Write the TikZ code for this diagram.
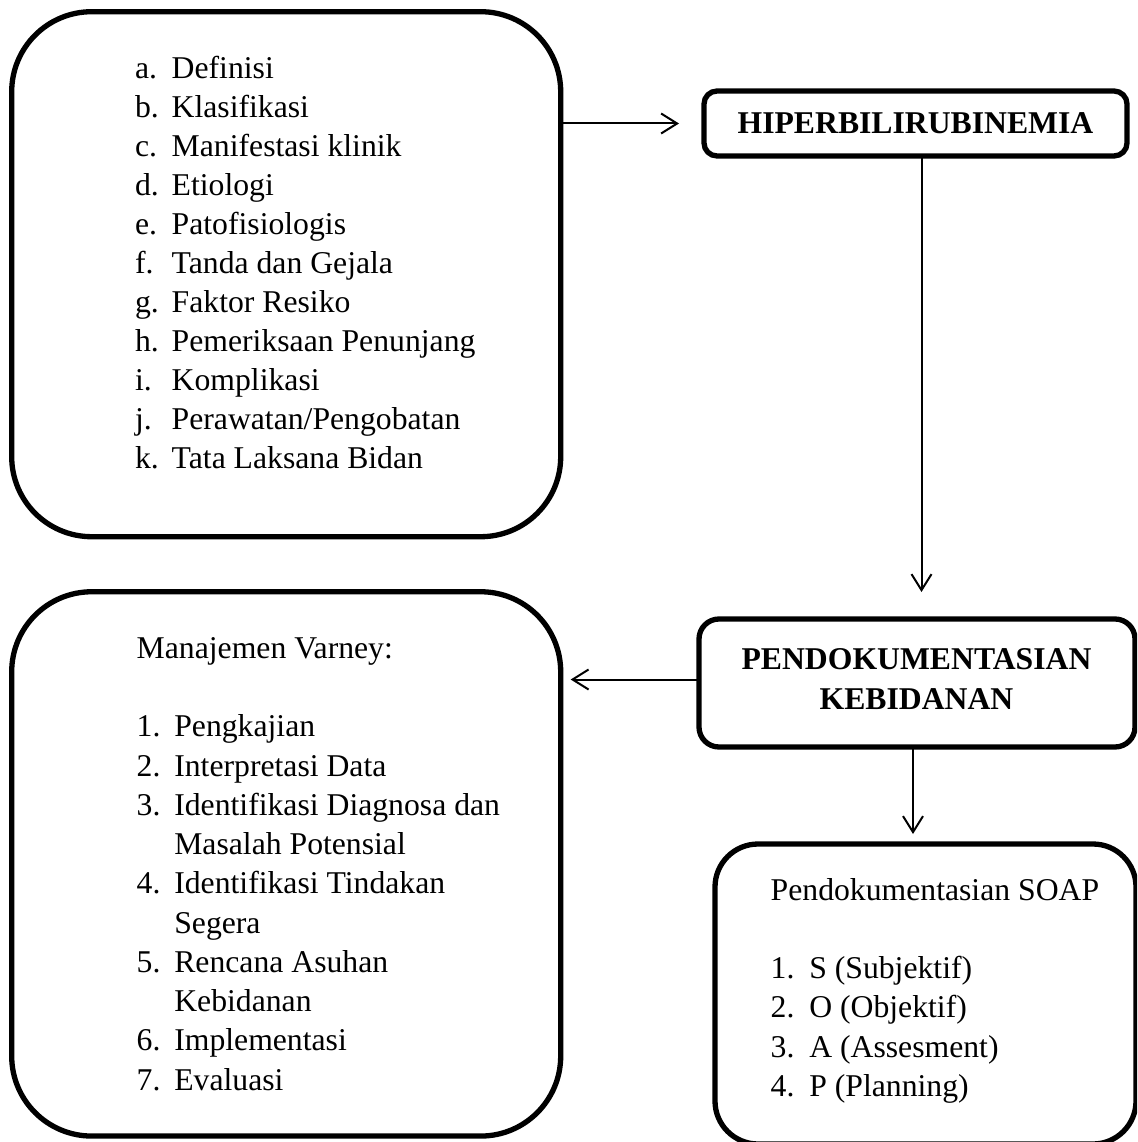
\documentclass[tikz,border=0pt]{standalone}
\usepackage{fontspec}
\setmainfont{Liberation Serif}
\usetikzlibrary{arrows.meta}
\begin{document}
\begin{tikzpicture}[x=1pt,y=-1pt,
  bigbox/.style={draw, line width=5.3pt, inner sep=0pt, outer sep=0pt, rounded corners=#1},
  txt/.style={inner sep=0pt, outer sep=0pt, anchor=base west, font=\fontsize{31.7}{39}\selectfont},
  head/.style={inner sep=0pt, outer sep=0pt, align=center, font=\fontsize{31.7}{40}\selectfont\bfseries},
  arr/.style={line width=2pt, -{Straight Barb[length=16pt,width=20pt,line width=2pt]}}
]
\fill[white] (0,0) rectangle (1137,1142);
\useasboundingbox (0,0) rectangle (1137,1142);
\begin{scope}
\clip (0,0) rectangle (1137,1142);

% boxes
\node[bigbox=80pt, minimum width=549pt, minimum height=525pt] (topics) at (286.2,274.2) {};
\node[bigbox=13pt, minimum width=423pt, minimum height=65pt, head] (hiper) at (915.5,123.5) {HIPERBILIRUBINEMIA};
\node[bigbox=20pt, minimum width=436pt, minimum height=128pt] (pendok) at (917,683) {};
\node[head] (pendoktext) at (916.5,679) {PENDOKUMENTASIAN\\KEBIDANAN};
\node[bigbox=80pt, minimum width=549pt, minimum height=544.3pt] (varney) at (286.2,863.9) {};
\node[bigbox=43pt, minimum width=421pt, minimum height=300pt] (soap) at (925.5,994) {};

% topic list
\foreach \lab/\t [count=\i] in {a./Definisi, b./Klasifikasi, c./Manifestasi klinik, d./Etiologi,
  e./Patofisiologis, f./Tanda dan Gejala, g./Faktor Resiko, h./Pemeriksaan Penunjang,
  i./Komplikasi, j./{Perawatan/Pengobatan}, k./Tata Laksana Bidan}{
  \node[txt] (tl\i) at (135, 78.3+39*\i-39) {\lab};
  \node[txt] (tt\i) at (171.7, 78.3+39*\i-39) {\t};
}

% Varney
\node[txt] (vhead) at (136.7,658.25) {Manajemen Varney:};
\foreach \lab/\y [count=\i] in {1./736.75, 2./776, 3./815.25, 4./893.75, 5./972.25, 6./1050.75, 7./1090}{
  \node[txt] (vl\i) at (136.7,\y) {\lab};
}
\foreach \t/\y [count=\i] in {Pengkajian/736.75, Interpretasi Data/776, Identifikasi Diagnosa dan/815.25,
  Masalah Potensial/854.5, Identifikasi Tindakan/893.75, Segera/933, Rencana Asuhan/972.25,
  Kebidanan/1011.5, Implementasi/1050.75, Evaluasi/1090}{
  \node[txt] (vt\i) at (174.3,\y) {\t};
}

% SOAP
\node[txt] (shead) at (770.7,900) {Pendokumentasian SOAP};
\foreach \lab/\t [count=\i] in {1./S (Subjektif), 2./O (Objektif), 3./A (Assesment), 4./P (Planning)}{
  \node[txt] (sl\i) at (770.7, 978.6+39.3*\i-39.3) {\lab};
  \node[txt] (st\i) at (809.3, 978.6+39.3*\i-39.3) {\t};
}

% connectors
\draw[arr, shorten >=25pt] (topics.east |- hiper.west) -- (hiper.west);
\draw[arr, shorten >=27pt] ([xshift=6pt]hiper.south) -- ([xshift=6pt]hiper.south |- pendok.north);
\draw[arr, shorten >=10pt] ([yshift=3.5pt]pendok.west) -- ([yshift=3.5pt]pendok.west -| varney.east);
\draw[arr, shorten >=10pt] ([xshift=-4pt]pendok.south) -- ([xshift=-4pt]pendok.south |- soap.north);
\end{scope}
\end{tikzpicture}
\end{document}
